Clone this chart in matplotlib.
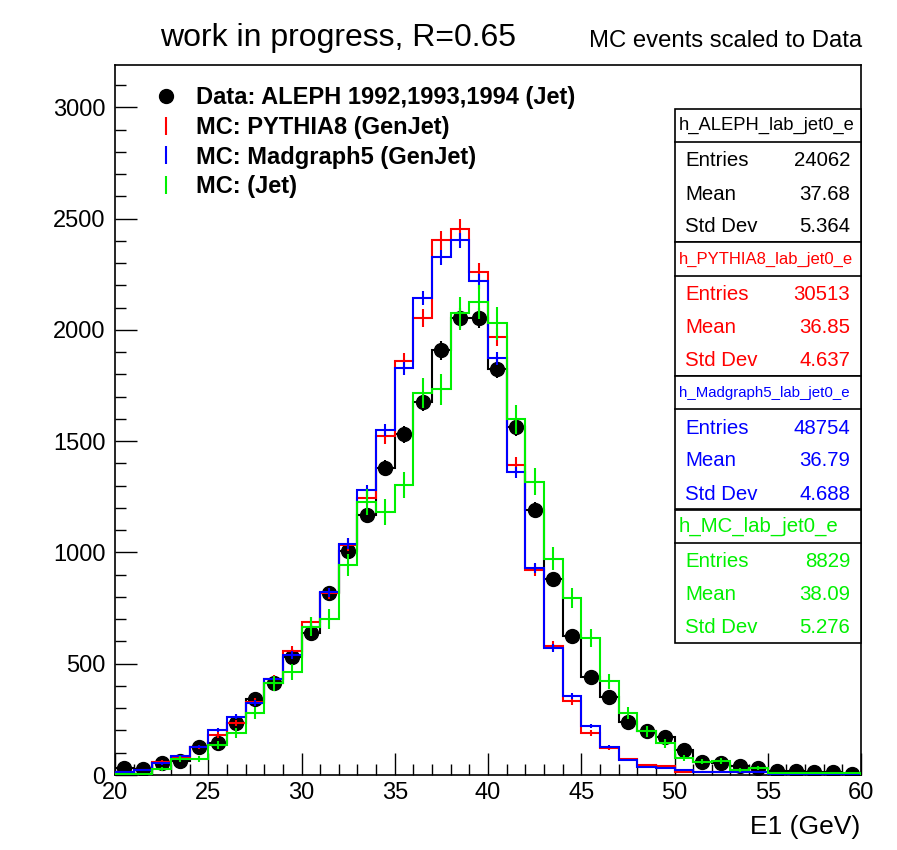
import numpy as np
import matplotlib
matplotlib.use("Agg")
import matplotlib.pyplot as plt
from matplotlib.lines import Line2D
from matplotlib.patches import Rectangle

plt.rcParams['font.family'] = ['Liberation Sans', 'DejaVu Sans']

# ---------------- data ----------------
bin_edges = np.arange(20, 61, 1)

data_counts = [30, 27, 52, 63, 126, 146, 233, 341, 413, 530,
               640, 817, 1005, 1167, 1380, 1531, 1675, 1908, 2055, 2055,
               1825, 1563, 1192, 880, 625, 442, 352, 240, 198, 170,
               112, 60, 54, 40, 30, 18, 18, 12, 12, 5]

pythia_counts = [15, 22, 60, 80, 125, 180, 233, 329, 431, 558,
                 687, 817, 1035, 1243, 1522, 1859, 2052, 2402, 2452, 2260,
                 1967, 1395, 920, 579, 332, 188, 121, 70, 45, 40,
                 15, 13, 13, 12, 12, 5, 5, 4, 3, 2]

madgraph_counts = [15, 22, 52, 85, 127, 202, 262, 323, 431, 539,
                   666, 821, 1040, 1280, 1549, 1827, 2142, 2326, 2402, 2218,
                   1872, 1360, 930, 570, 355, 220, 127, 67, 35, 33,
                   22, 14, 14, 13, 13, 5, 5, 4, 3, 2]

mcjet_counts = [5, 6, 27, 72, 72, 135, 188, 278, 413, 463,
                666, 700, 943, 1227, 1182, 1302, 1717, 1733, 2074, 2125,
                2029, 1598, 1318, 972, 795, 617, 422, 280, 196, 143,
                76, 60, 62, 22, 30, 9, 9, 9, 9, 9]

legend_labels = ["Data: ALEPH 1992,1993,1994 (Jet)", "MC: PYTHIA8 (GenJet)",
                 "MC: Madgraph5 (GenJet)", "MC: (Jet)"]

stat_names = ["h_ALEPH_lab_jet0_e", "h_PYTHIA8_lab_jet0_e",
              "h_Madgraph5_lab_jet0_e", "h_MC_lab_jet0_e"]
stat_entries = [24062, 30513, 48754, 8829]
stat_means = ["37.68", "36.85", "36.79", "38.09"]
stat_stds = ["5.364", "4.637", "4.688", "5.276"]

# ---------------- figure ----------------
W, H = 897, 850
fig = plt.figure(figsize=(W / 100, H / 100), dpi=100)
ax_l, ax_r, ax_t, ax_b = 115, 861, 65, 775
ax = fig.add_axes([ax_l / W, 1 - ax_b / H, (ax_r - ax_l) / W, (ax_b - ax_t) / H])

centers = 0.5 * (bin_edges[:-1] + bin_edges[1:])
data = np.array(data_counts, float)
lw = 1.5
GREEN = '#00f000'

# data: black step + markers
ax.stairs(data, bin_edges, color='black', lw=lw, zorder=2)
ax.errorbar(centers, data, yerr=np.sqrt(data), fmt='o', color='black',
            ms=10, elinewidth=lw, capsize=0, zorder=3)

mc_sets = [(pythia_counts, '#ff0000', stat_entries[1]),
           (madgraph_counts, '#0000ff', stat_entries[2]),
           (mcjet_counts, GREEN, stat_entries[3])]
for i, (vals, col, n_ent) in enumerate(mc_sets):
    v = np.array(vals, float)
    scale = stat_entries[0] / n_ent
    err = np.sqrt(v * scale)
    ax.stairs(v, bin_edges, color=col, lw=lw, zorder=4 + i)
    ax.errorbar(centers, v, yerr=err, fmt='none', ecolor=col,
                elinewidth=lw, capsize=0, zorder=4 + i)

ax.set_xlim(20, 60)
ax.set_ylim(0, 3190)
ax.set_xticks(np.arange(20, 61, 5))
ax.set_xticks(np.arange(20, 61, 1), minor=True)
ax.set_yticks(np.arange(0, 3001, 500))
ax.set_yticks(np.arange(0, 3190, 100), minor=True)
ax.tick_params(which='both', direction='in', top=False, right=False,
               labelsize=17, width=1.0)
ax.tick_params(which='major', length=16)
ax.tick_params(which='minor', length=8)
ax.tick_params(axis='x', pad=5)
ax.tick_params(axis='y', pad=7)
for s in ax.spines.values():
    s.set_linewidth(1.2)

# legend
handles = [Line2D([], [], marker='o', color='black', ms=10, ls='none'),
           Line2D([], [], marker='|', color='#ff0000', ms=13, mew=1.5, ls='none'),
           Line2D([], [], marker='|', color='#0000ff', ms=13, mew=1.5, ls='none'),
           Line2D([], [], marker='|', color=GREEN, ms=13, mew=1.5, ls='none')]
ax.legend(handles, legend_labels, loc='upper left', bbox_to_anchor=(0.052, 0.970),
          frameon=False, prop={'weight': 'bold', 'size': 17}, handlelength=1.0,
          handletextpad=0.8, borderpad=0, borderaxespad=0, labelspacing=0.28)

# titles
fig.text(160 / W, 1 - 46 / H, "work in progress, R=0.65", fontsize=23,
         ha='left', va='baseline')
fig.text(862 / W, 1 - 47 / H, "MC events scaled to Data", fontsize=17.2,
         ha='right', va='baseline')
fig.text(860 / W, 1 - 834 / H, "E1 (GeV)", fontsize=19, ha='right', va='baseline')

# stats boxes
colors = ['black', '#ff0000', '#0000ff', GREEN]
title_sizes = [13.2, 12.0, 10.8, 14.7]
bx_l, bx_r = 675, 861
top = 109
for k in range(4):
    t0 = top + k * 133.5
    t1 = t0 + 33
    c1 = t1 + 100
    fig.patches.append(Rectangle((bx_l / W, 1 - c1 / H), (bx_r - bx_l) / W,
                                 (c1 - t0) / H, transform=fig.transFigure,
                                 facecolor='white', edgecolor='black', lw=1.2,
                                 zorder=10))
    fig.add_artist(Line2D([bx_l / W, bx_r / W], [1 - t1 / H, 1 - t1 / H],
                          transform=fig.transFigure, color='black', lw=1.2,
                          zorder=11))
    fig.text(679 / W, 1 - (t0 + t1) / 2 / H, stat_names[k],
             color=colors[k], fontsize=title_sizes[k], ha='left',
             va='center', zorder=12)
    rows = [("Entries", str(stat_entries[k])), ("Mean", stat_means[k]),
            ("Std Dev", stat_stds[k])]
    for j, (lab, val) in enumerate(rows):
        yy = t1 + 19 + j * 33
        fig.text(685 / W, 1 - yy / H, lab, color=colors[k], fontsize=14.7,
                 ha='left', va='center', zorder=12)
        fig.text(850 / W, 1 - yy / H, val, color=colors[k], fontsize=14.7,
                 ha='right', va='center', zorder=12)

fig.savefig("out.png", dpi=100)
